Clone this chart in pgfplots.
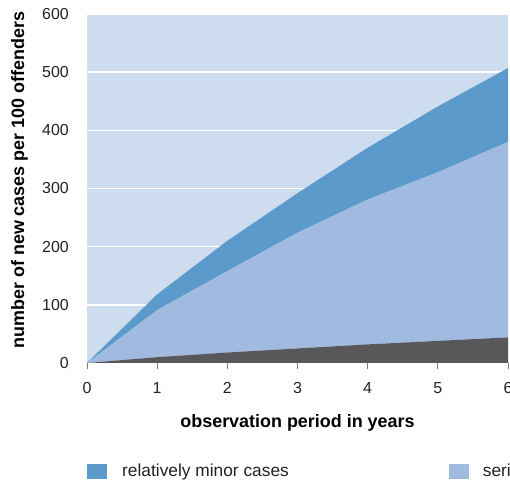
\documentclass[border=0pt]{standalone}
\usepackage{fontspec}
\setmainfont{Liberation Sans}
\usepackage{pgfplots}
\pgfplotsset{compat=1.18}
\definecolor{bg}{HTML}{CDDCEE}
\definecolor{minorc}{HTML}{5B9ACB}
\definecolor{seriousc}{HTML}{A0BBDF}
\definecolor{darkc}{HTML}{58585A}
\definecolor{txt}{HTML}{222222}
\pgfplotstableread{
x dark serious minor
0 0 0 0
1 10 81 27
2 18 140 52
3 25 199 68
4 32 249 89
5 38 290 113
6 44 336 127
}\data
\begin{document}
\begin{tikzpicture}[x=1bp,y=1bp]
\path[use as bounding box] (0,0) rectangle (510,482);
\clip (0,0) rectangle (510,482);
\begin{axis}[
  at={(87bp,119bp)}, anchor=south west,
  scale only axis, width=421bp, height=349bp,
  xmin=0, xmax=6, ymin=0, ymax=600,
  xtick={0,1,2,3,4,5,6}, ytick={0,100,200,300,400,500,600},
  axis lines*=left,
  axis line style={draw=none},
  axis background/.style={fill=bg},
  ymajorgrids, grid style={white, line width=1.5bp},
  tick align=outside, major tick length=6bp,
  xtick style={draw=gray, line width=0.8bp},
  ytick style={draw=none},
  stack plots=y,
  /pgf/number format/assume math mode=true,
  ticklabel style={font=\fontsize{16}{16}\selectfont, text=txt},
  yticklabel style={anchor=east, inner sep=0pt, xshift=-12bp},
  xticklabel style={anchor=north, inner sep=0pt, yshift=-13bp},
  xlabel={observation period in years},
  xlabel style={font=\bfseries\fontsize{18}{18}\selectfont, text=black, at={(axis description cs:0.5,-0.1862)}, anchor=base, inner sep=0pt},
  ylabel={number of new cases per 100 offenders},
  ylabel style={font=\bfseries\fontsize{18}{18}\selectfont, text=black, at={(axis description cs:-0.1496,0.524)}, anchor=base, inner sep=0pt},
]
\addplot[fill=darkc, draw=none] table[x=x, y=dark] {\data} \closedcycle;
\addplot[fill=seriousc, draw=none] table[x=x, y=serious] {\data} \closedcycle;
\addplot[fill=minorc, draw=none] table[x=x, y=minor] {\data} \closedcycle;
\end{axis}
\fill[minorc] (87.3,2.7) rectangle (106.7,18);
\node[anchor=base west, inner sep=0pt, text=txt, font=\fontsize{17.4}{17.4}\selectfont] at (122,5.3) {relatively minor cases};
\fill[seriousc] (449.3,2.7) rectangle (468.7,18);
\node[anchor=base west, inner sep=0pt, text=txt, font=\fontsize{17.4}{17.4}\selectfont] at (482.7,5.3) {serious cases};
\end{tikzpicture}
\end{document}
